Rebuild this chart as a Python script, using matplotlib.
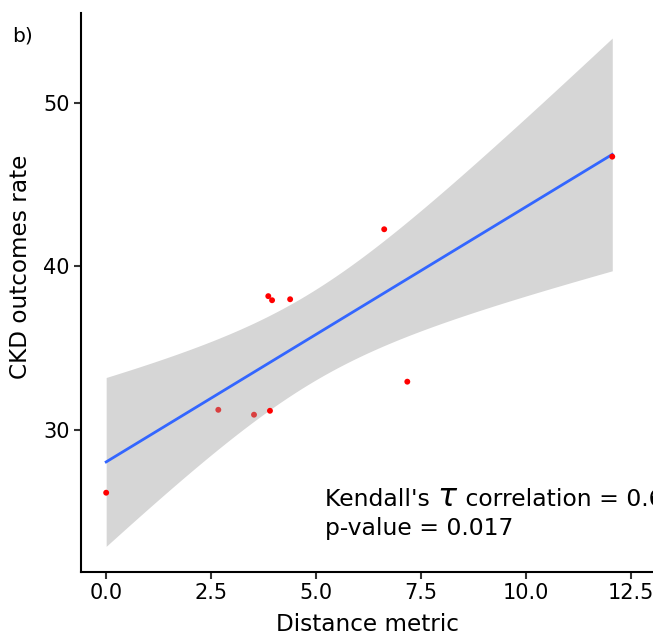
import numpy as np
import matplotlib
matplotlib.use("Agg")
import matplotlib.pyplot as plt
from matplotlib.transforms import offset_copy

# values
distance = [0.0, 2.67, 3.52, 3.90, 3.86, 3.95, 4.38, 6.62, 7.17, 12.05]
ckd_rate = [26.15, 31.22, 30.92, 31.16, 38.17, 37.92, 37.98, 42.26, 32.94, 46.70]
x_ticks = [0.0, 2.5, 5.0, 7.5, 10.0, 12.5]
y_ticks = [30, 40, 50]
tau_text = "0.6"
p_text = "0.017"

# two points look a bit duller in the original
point_colors = ["#ff0000", "#d94040", "#d94040", "#ff0000", "#ff0000",
                "#ff0000", "#ff0000", "#ff0000", "#ff0000", "#ff0000"]

x = np.array(distance)
y = np.array(ckd_rate)
n = len(x)

# linear fit with 95% confidence band (like geom_smooth(method="lm"))
slope, intercept = np.polyfit(x, y, 1)
resid = y - (intercept + slope * x)
s = np.sqrt(np.sum(resid ** 2) / (n - 2))
sxx = np.sum((x - x.mean()) ** 2)
t_crit = 2.306  # t(0.975, df=8)
xs = np.linspace(x.min(), x.max(), 200)
fit = intercept + slope * xs
se = s * np.sqrt(1.0 / n + (xs - x.mean()) ** 2 / sxx)

fig = plt.figure(figsize=(6.53, 6.37), dpi=100)
ax = fig.add_axes([0.124, 0.102, 0.876, 0.878])

ax.fill_between(xs, fit - t_crit * se, fit + t_crit * se, color="#d6d6d6", lw=0, zorder=1)
ax.scatter(x, y, s=18, c=point_colors, lw=0, zorder=3)
ax.plot(xs, fit, color="#3366ff", lw=2.0, zorder=2)

ax.set_xlim(-0.6, 13.02)
ax.set_ylim(21.3, 55.5)
ax.set_xticks(x_ticks)
ax.set_xticklabels([f"{v:.1f}" for v in x_ticks])
ax.set_yticks(y_ticks)

for side in ["top", "right"]:
    ax.spines[side].set_visible(False)
for side in ["left", "bottom"]:
    ax.spines[side].set_linewidth(1.5)
    ax.spines[side].set_color("black")
ax.tick_params(axis="both", length=5, width=1.5, color="#333333",
               labelsize=15, labelcolor="black", pad=3)

ax.set_xlabel("Distance metric", fontsize=16.7, labelpad=7)
ax.set_ylabel("CKD outcomes rate", fontsize=16.7)
ax.yaxis.set_label_coords(-0.085, 0.545)

# annotation, with a bigger tau in the middle
fs = 16.9
t1 = ax.text(5.21, 25.35, "Kendall's ", fontsize=fs, va="baseline")
fig.canvas.draw()
w1 = t1.get_window_extent().width * 72 / fig.dpi
t2 = ax.text(5.21, 25.35, "$\\tau$", fontsize=fs * 1.35, va="baseline",
             transform=offset_copy(ax.transData, fig=fig, x=w1, y=0, units="points"))
fig.canvas.draw()
w2 = t2.get_window_extent().width * 72 / fig.dpi
ax.text(5.21, 25.35, " correlation = " + tau_text, fontsize=fs, va="baseline",
        transform=offset_copy(ax.transData, fig=fig, x=w1 + w2, y=0, units="points"))
ax.text(5.21, 23.58, "p-value = " + p_text, fontsize=fs, va="baseline")

fig.text(0.018, 0.935, "b)", fontsize=14.5)

fig.savefig("out.png", dpi=100)
